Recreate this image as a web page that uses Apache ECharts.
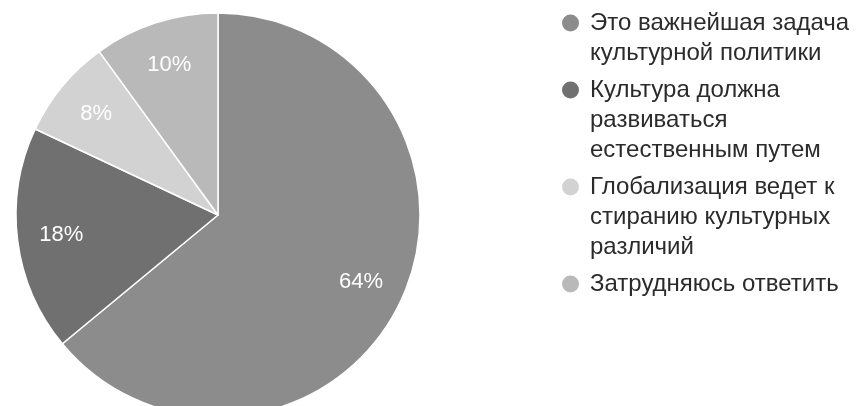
<!DOCTYPE html>
<html><head><meta charset="utf-8">
<script src="https://cdn.jsdelivr.net/npm/echarts@6/dist/echarts.min.js"></script>
<style>html,body{margin:0;padding:0;background:#fff}#c{width:856px;height:406px}</style>
</head><body><div id="c"></div>
<script>
const categories = [
  'Это важнейшая задача\nкультурной политики',
  'Культура должна\nразвиваться\nестественным путем',
  'Глобализация ведет к\nстиранию культурных\nразличий',
  'Затрудняюсь ответить'
];
const values = [64, 18, 8, 10];
const colors = ['#8c8c8c', '#707070', '#d2d2d2', '#b9b9b9'];

const FONT = '"Liberation Sans", Arial, sans-serif';
const rich = {
  t: { fontSize: 24, lineHeight: 30, color: '#2b2b2b', fontFamily: FONT },
  g: { width: 11 },
  s: { width: 28 }
};
colors.forEach((c, i) => {
  rich['d' + i] = { width: 17, height: 17, borderRadius: 9, backgroundColor: c, verticalAlign: 'middle' };
});

const chart = echarts.init(document.getElementById('c'), null, { renderer: 'canvas' });
chart.setOption({
  animation: false,
  backgroundColor: '#fff',
  legend: {
    orient: 'vertical', left: 557, top: 8, padding: 0, itemGap: 7,
    itemWidth: 0, itemHeight: 1, icon: 'none', selectedMode: false,
    data: categories,
    formatter: name => {
      const i = categories.indexOf(name);
      return name.split('\n').map((ln, k) => (k === 0 ? '{d' + i + '|}{g|}' : '{s|}') + '{t|' + ln + '}').join('\n');
    },
    textStyle: { fontSize: 24, lineHeight: 30, color: '#2b2b2b', fontFamily: FONT, rich: rich }
  },
  series: [
    {
      type: 'pie', center: [218, 215], radius: 202, startAngle: 90, clockwise: true,
      silent: true, emphasis: { disabled: true },
      data: categories.map((n, i) => ({ name: n, value: values[i], itemStyle: { color: colors[i] } })),
      itemStyle: { borderColor: '#ffffff', borderWidth: 1.5 },
      label: { show: false }, labelLine: { show: false }
    },
    {
      type: 'pie', center: [218, 215], radius: [108, 202], startAngle: 90, clockwise: true,
      silent: true, emphasis: { disabled: true },
      data: categories.map((n, i) => ({ name: n, value: values[i] })),
      itemStyle: { color: 'rgba(0,0,0,0)', borderWidth: 0 },
      label: { show: true, position: 'inside', formatter: '{c}%', color: '#ffffff', fontSize: 22, fontFamily: FONT, fontWeight: 'normal' },
      labelLine: { show: false }
    }
  ]
});
</script>
</body></html>
